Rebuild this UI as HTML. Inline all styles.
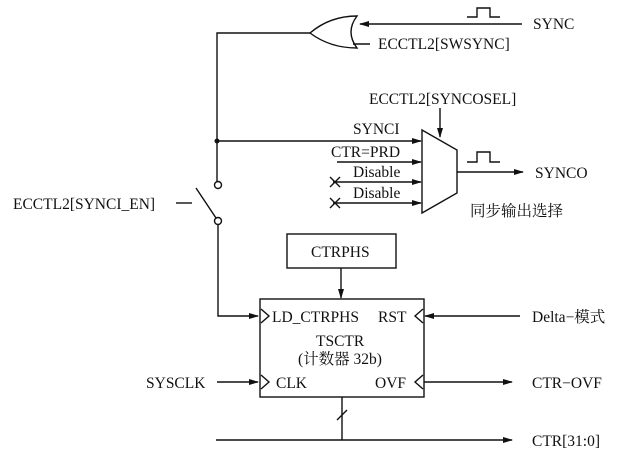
<!DOCTYPE html>
<html><head><meta charset="utf-8"><style>
html,body{margin:0;padding:0;background:#fff;}
svg{display:block;}
text{font-family:"Liberation Serif","Noto Serif CJK SC",serif;font-size:15.5px;fill:#111;}
</style></head><body>
<svg width="617" height="458" viewBox="0 0 617 458" xmlns="http://www.w3.org/2000/svg">
<defs><marker id="a" markerWidth="10" markerHeight="8" refX="9" refY="4" orient="auto" markerUnits="userSpaceOnUse"><path d="M0,1 L10,4 L0,7 Z" fill="#111"/></marker></defs>
<g stroke="#111" stroke-width="1.4" fill="none">
<path d="M357,16 Q345,32 357,48 Q330,48 310,33 Q330,16 357,16 Z"/>
<line x1="522" y1="24" x2="360" y2="24" marker-end="url(#a)"/>
<line x1="353" y1="44" x2="370" y2="44"/>
<path d="M467,17 H477 V8 H490 V17 H500"/>
<polyline points="310,33 217,33 217,181"/>
<circle cx="218" cy="185" r="3.5" fill="#fff"/>
<circle cx="218" cy="221" r="3.5" fill="#fff"/>
<line x1="196" y1="188" x2="216" y2="218"/>
<line x1="176" y1="203" x2="192" y2="203"/>
<polyline points="218,225 218,316 258,316" marker-end="url(#a)"/>
<path d="M422,130 L457,150 L457,193 L422,213 Z"/>
<line x1="217" y1="141" x2="421" y2="141" marker-end="url(#a)"/>
<line x1="337" y1="162" x2="421" y2="162" marker-end="url(#a)"/>
<line x1="333" y1="182" x2="421" y2="182" marker-end="url(#a)"/>
<line x1="333" y1="203" x2="421" y2="203" marker-end="url(#a)"/>
<path d="M330,177 L340,187 M340,177 L330,187 M330,198 L340,208 M340,198 L330,208"/>
<line x1="440" y1="108" x2="440" y2="137" marker-end="url(#a)"/>
<line x1="457" y1="172" x2="523" y2="172" marker-end="url(#a)"/>
<path d="M467,162 H477 V152 H490 V162 H500"/>
<rect x="287" y="234" width="109" height="34"/>
<line x1="341" y1="268" x2="341" y2="298" marker-end="url(#a)"/>
<rect x="260" y="299" width="164" height="98"/>
<path d="M261,309 L269,316 L261,323"/>
<path d="M261,375 L269,382 L261,389"/>
<path d="M423,309 L415,316 L423,323"/>
<path d="M423,375 L415,382 L423,389"/>
<line x1="520" y1="316" x2="425" y2="316" marker-end="url(#a)"/>
<line x1="217" y1="382" x2="258" y2="382" marker-end="url(#a)"/>
<line x1="424" y1="382" x2="512" y2="382" marker-end="url(#a)"/>
<line x1="342" y1="397" x2="342" y2="440"/>
<line x1="337" y1="420" x2="347" y2="410"/>
<line x1="216" y1="440" x2="512" y2="440" marker-end="url(#a)"/>
</g>
<circle cx="217" cy="141" r="2.5" fill="#111"/>
<text x="533" y="29">SYNC</text>
<text x="378" y="49">ECCTL2[SWSYNC]</text>
<text x="369" y="104">ECCTL2[SYNCOSEL]</text>
<text x="353" y="134">SYNCI</text>
<text x="331" y="157">CTR=PRD</text>
<text x="353" y="177">Disable</text>
<text x="353" y="198">Disable</text>
<text x="535" y="178">SYNCO</text>
<text x="470" y="216">同步输出选择</text>
<text x="13" y="209">ECCTL2[SYNCI_EN]</text>
<text x="311" y="257">CTRPHS</text>
<text x="272" y="322">LD_CTRPHS</text>
<text x="378" y="322">RST</text>
<text x="316" y="346">TSCTR</text>
<text x="298" y="364">(计数器 32b)</text>
<text x="276" y="388">CLK</text>
<text x="375" y="388">OVF</text>
<text x="532" y="322">Delta−模式</text>
<text x="146" y="388">SYSCLK</text>
<text x="532" y="388">CTR−OVF</text>
<text x="532" y="446">CTR[31:0]</text>
</svg>
</body></html>
